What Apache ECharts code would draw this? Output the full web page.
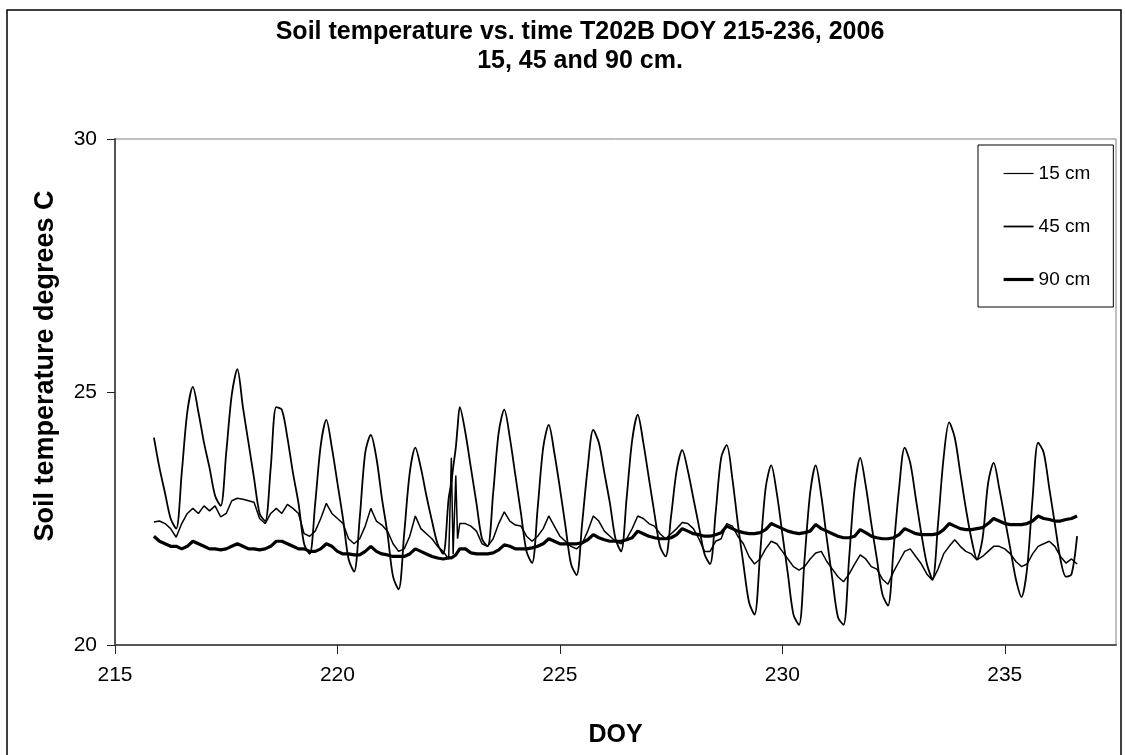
<!DOCTYPE html>
<html>
<head>
<meta charset="utf-8">
<title>Soil temperature T202B</title>
<script src="https://cdn.jsdelivr.net/npm/echarts@6/dist/echarts.min.js"></script>
<style>
html,body{margin:0;padding:0;background:#fff;}
#chart{width:1125px;height:755px;}
</style>
</head>
<body>
<div id="chart"></div>
<script>
// sample times (day of year), read every 3 h off the chart, a few extra round the spike on 222
var doy = [
	215.875,
	216, 216.125, 216.25, 216.375, 216.5, 216.625, 216.75, 216.875,
	217, 217.125, 217.25, 217.375, 217.5, 217.625, 217.75, 217.875,
	218, 218.125, 218.25, 218.375, 218.5, 218.625, 218.75, 218.875,
	219, 219.125, 219.25, 219.375, 219.5, 219.625, 219.75, 219.875,
	220, 220.125, 220.25, 220.375, 220.5, 220.625, 220.75, 220.875,
	221, 221.125, 221.25, 221.375, 221.5, 221.625, 221.75, 221.875,
	222, 222.125, 222.25, 222.375, 222.5, 222.56, 222.6, 222.66, 222.7, 222.75, 222.875,
	223, 223.125, 223.25, 223.375, 223.5, 223.625, 223.75, 223.875,
	224, 224.125, 224.25, 224.375, 224.5, 224.625, 224.75, 224.875,
	225, 225.125, 225.25, 225.375, 225.5, 225.625, 225.75, 225.875,
	226, 226.125, 226.25, 226.375, 226.5, 226.625, 226.75, 226.875,
	227, 227.125, 227.25, 227.375, 227.5, 227.625, 227.75, 227.875,
	228, 228.125, 228.25, 228.375, 228.5, 228.625, 228.75, 228.875,
	229, 229.125, 229.25, 229.375, 229.5, 229.625, 229.75, 229.875,
	230, 230.125, 230.25, 230.375, 230.5, 230.625, 230.75, 230.875,
	231, 231.125, 231.25, 231.375, 231.5, 231.625, 231.75, 231.875,
	232, 232.125, 232.25, 232.375, 232.5, 232.625, 232.75, 232.875,
	233, 233.125, 233.25, 233.375, 233.5, 233.625, 233.75, 233.875,
	234, 234.125, 234.25, 234.375, 234.5, 234.625, 234.75, 234.875,
	235, 235.125, 235.25, 235.375, 235.5, 235.625, 235.75, 235.875,
	236, 236.125, 236.25, 236.375, 236.5, 236.625
];
var t15 = [
	24.1,
	23.5, 23.0, 22.5, 22.3, 23.4, 24.6, 25.1, 24.6,
	24.0, 23.5, 22.95, 22.75, 23.8, 24.95, 25.45, 24.7,
	24.0, 23.3, 22.6, 22.45, 23.5, 24.7, 24.65, 24.1,
	23.4, 22.8, 22.0, 21.8, 22.8, 23.95, 24.45, 23.9,
	23.2, 22.5, 21.7, 21.45, 22.5, 23.8, 24.15, 23.7,
	22.9, 22.2, 21.35, 21.1, 22.2, 23.4, 23.9, 23.5,
	22.95, 22.45, 22.0, 21.8, 22.9, 23.2, 23.5, 23.9, 24.3, 24.7, 24.2,
	23.5, 22.8, 22.1, 21.95, 23.0, 24.2, 24.65, 24.1,
	23.35, 22.6, 21.85, 21.62, 22.7, 23.9, 24.35, 23.8,
	23.1, 22.35, 21.6, 21.38, 22.4, 23.5, 24.25, 24.0,
	23.4, 22.8, 22.1, 21.85, 22.9, 24.05, 24.55, 24.0,
	23.3, 22.6, 21.95, 21.75, 22.55, 23.45, 23.85, 23.45,
	22.9, 22.35, 21.8, 21.6, 22.6, 23.7, 23.95, 23.3,
	22.4, 21.6, 20.85, 20.6, 21.8, 23.1, 23.55, 23.0,
	22.2, 21.4, 20.6, 20.4, 21.7, 23.0, 23.55, 22.95,
	22.1, 21.3, 20.55, 20.4, 21.7, 23.1, 23.7, 23.15,
	22.4, 21.7, 21.0, 20.78, 21.9, 23.1, 23.9, 23.6,
	22.9, 22.2, 21.6, 21.3, 22.4, 23.7, 24.4, 24.1,
	23.4, 22.7, 22.1, 21.7, 22.1, 23.2, 23.6, 23.1,
	22.5, 21.9, 21.3, 20.95, 21.5, 22.9, 24.0, 23.8,
	23.1, 22.4, 21.7, 21.35, 21.4, 22.15
];
var t45 = [
	22.43,
	22.45, 22.4, 22.3, 22.13, 22.4, 22.6, 22.7, 22.6,
	22.75, 22.65, 22.75, 22.53, 22.6, 22.85, 22.9, 22.88,
	22.85, 22.82, 22.5, 22.4, 22.6, 22.7, 22.6, 22.78,
	22.7, 22.6, 22.2, 22.15, 22.25, 22.5, 22.8, 22.6,
	22.5, 22.4, 22.1, 22.0, 22.1, 22.35, 22.7, 22.45,
	22.37, 22.25, 22.0, 21.85, 21.9, 22.15, 22.55, 22.3,
	22.2, 22.1, 21.95, 21.85, 21.7, 23.7, 21.8, 23.35, 22.1, 22.4, 22.4,
	22.35, 22.25, 22.0, 21.95, 22.1, 22.4, 22.63, 22.45,
	22.37, 22.35, 22.15, 22.05, 22.15, 22.3, 22.55, 22.35,
	22.15, 22.05, 21.95, 21.9, 22.0, 22.25, 22.55, 22.45,
	22.25, 22.15, 22.05, 22.0, 22.1, 22.3, 22.55, 22.5,
	22.4, 22.35, 22.2, 22.1, 22.2, 22.3, 22.42, 22.4,
	22.3, 22.1, 21.85, 21.85, 22.05, 22.1, 22.4, 22.35,
	22.15, 22.0, 21.75, 21.6, 21.7, 21.9, 22.05, 22.0,
	21.85, 21.7, 21.55, 21.48, 21.55, 21.7, 21.82, 21.85,
	21.65, 21.5, 21.35, 21.25, 21.4, 21.6, 21.78, 21.7,
	21.55, 21.5, 21.3, 21.2, 21.45, 21.65, 21.85, 21.9,
	21.75, 21.6, 21.4, 21.28, 21.5, 21.8, 21.95, 22.08,
	21.95, 21.85, 21.8, 21.68, 21.75, 21.85, 21.95, 21.95,
	21.9, 21.8, 21.65, 21.55, 21.6, 21.8, 21.95, 22.0,
	22.05, 21.95, 21.75, 21.62, 21.7, 21.6
];
var t90 = [
	22.15,
	22.05, 22.0, 21.95, 21.95, 21.9, 21.95, 22.05, 22.0,
	21.95, 21.9, 21.9, 21.88, 21.9, 21.95, 22.0, 21.95,
	21.9, 21.9, 21.88, 21.9, 21.95, 22.05, 22.05, 22.0,
	21.95, 21.9, 21.9, 21.85, 21.85, 21.9, 22.0, 21.95,
	21.85, 21.8, 21.8, 21.78, 21.78, 21.85, 21.95, 21.85,
	21.8, 21.78, 21.75, 21.75, 21.75, 21.8, 21.9, 21.85,
	21.8, 21.75, 21.72, 21.7, 21.72, 21.72, 21.75, 21.78, 21.8, 21.9, 21.9,
	21.82, 21.8, 21.8, 21.8, 21.82, 21.88, 21.98, 21.95,
	21.9, 21.9, 21.9, 21.92, 21.95, 22.0, 22.1, 22.05,
	22.0, 22.0, 22.0, 22.0, 22.02, 22.08, 22.18, 22.12,
	22.08, 22.05, 22.05, 22.05, 22.08, 22.12, 22.25, 22.2,
	22.15, 22.12, 22.1, 22.1, 22.12, 22.18, 22.3, 22.25,
	22.2, 22.18, 22.15, 22.15, 22.18, 22.22, 22.35, 22.3,
	22.25, 22.22, 22.2, 22.2, 22.22, 22.28, 22.4, 22.35,
	22.3, 22.25, 22.22, 22.2, 22.22, 22.25, 22.38, 22.3,
	22.25, 22.2, 22.15, 22.12, 22.12, 22.15, 22.28, 22.22,
	22.15, 22.12, 22.1, 22.1, 22.12, 22.18, 22.3, 22.25,
	22.2, 22.18, 22.18, 22.18, 22.2, 22.28, 22.4, 22.35,
	22.3, 22.28, 22.28, 22.3, 22.32, 22.4, 22.5, 22.45,
	22.4, 22.38, 22.38, 22.38, 22.4, 22.45, 22.55, 22.5,
	22.48, 22.45, 22.45, 22.48, 22.5, 22.55
];
var seriesNames = ['15 cm', '45 cm', '90 cm'];
var xTicks = [215, 220, 225, 230, 235];
var yTicks = [20, 25, 30];

var font = "'Liberation Sans', Arial, sans-serif";
var lineWidths = [1.8, 1.5, 3.2];
var legendWidths = [1.2, 1.8, 3.2];

function pairs(vals)
{
	var out = [];
	for (var i = 0; i < doy.length; i++) out.push([doy[i], vals[i]]);
	return out;
}

function lineSeries(name, vals, width, smooth)
{
	return {
		name: name,
		type: 'line',
		data: pairs(vals),
		symbol: 'none',
		smooth: smooth,
		lineStyle: { color: '#000', width: width },
		itemStyle: { color: '#000' },
		animation: false,
		z: 3
	};
}

function legendItems()
{
	var items = [];
	for (var i = 0; i < seriesNames.length; i++)
		items.push({ name: seriesNames[i], lineStyle: { width: legendWidths[i], color: '#000' } });
	return items;
}

var myChart = echarts.init(document.getElementById('chart'), null, { renderer: 'canvas' });
var option = {
	backgroundColor: '#fff',
	animation: false,
	title: {
		text: 'Soil temperature vs. time T202B DOY 215-236, 2006\n15, 45 and 90 cm.',
		left: 575,
		top: 13,
		textAlign: 'center',
		textStyle: { fontFamily: font, fontSize: 25, fontWeight: 'bold', color: '#000', lineHeight: 29 }
	},
	legend: {
		orient: 'vertical',
		left: 978,
		top: 145,
		padding: [19, 23, 18, 24],
		itemGap: 34,
		itemWidth: 30,
		itemHeight: 14,
		borderColor: '#000',
		borderWidth: 1,
		backgroundColor: '#fff',
		selectedMode: false,
		itemStyle: { opacity: 0 },
		textStyle: { fontFamily: font, fontSize: 19, color: '#000' },
		data: legendItems()
	},
	grid: { left: 115, right: 9, top: 139, bottom: 110, show: true, borderColor: '#808080', borderWidth: 1, backgroundColor: '#fff', outerBoundsMode: 'none' },
	xAxis: {
		type: 'value',
		min: 215,
		max: 237.5,
		name: 'DOY',
		nameLocation: 'middle',
		nameGap: 78,
		nameTextStyle: { fontFamily: font, fontSize: 25, fontWeight: 'bold', color: '#000' },
		axisLine: { onZero: false, lineStyle: { color: '#555', width: 2 } },
		axisTick: { customValues: xTicks, length: 9, lineStyle: { color: '#222', width: 1 } },
		axisLabel: { customValues: xTicks, margin: 20, fontFamily: font, fontSize: 21, color: '#000' },
		splitLine: { show: false }
	},
	yAxis: {
		type: 'value',
		min: 20,
		max: 30,
		interval: 5,
		axisLine: { show: true, lineStyle: { color: '#555', width: 2 } },
		axisTick: { show: true, customValues: yTicks, length: 8, lineStyle: { color: '#222', width: 1 } },
		axisLabel: { customValues: yTicks, margin: 18, fontFamily: font, fontSize: 21, color: '#000' },
		splitLine: { show: false }
	},
	graphic: [
		{
			type: 'rect',
			shape: { x: 7, y: 10, width: 1114, height: 770 },
			style: { fill: null, stroke: '#000', lineWidth: 1.5 },
			silent: true,
			z: -1
		},
		{
			type: 'text',
			x: 46,
			y: 366,
			rotation: Math.PI / 2,
			style: {
				text: 'Soil temperature degrees C',
				fontFamily: font,
				fontSize: 27,
				fontWeight: 'bold',
				fill: '#000',
				textAlign: 'center',
				textVerticalAlign: 'middle'
			}
		}
	],
	series: [
		lineSeries(seriesNames[0], t15, lineWidths[0], 0.3),
		lineSeries(seriesNames[1], t45, lineWidths[1], false),
		lineSeries(seriesNames[2], t90, lineWidths[2], false)
	]
};
myChart.setOption(option);
</script>
</body>
</html>
